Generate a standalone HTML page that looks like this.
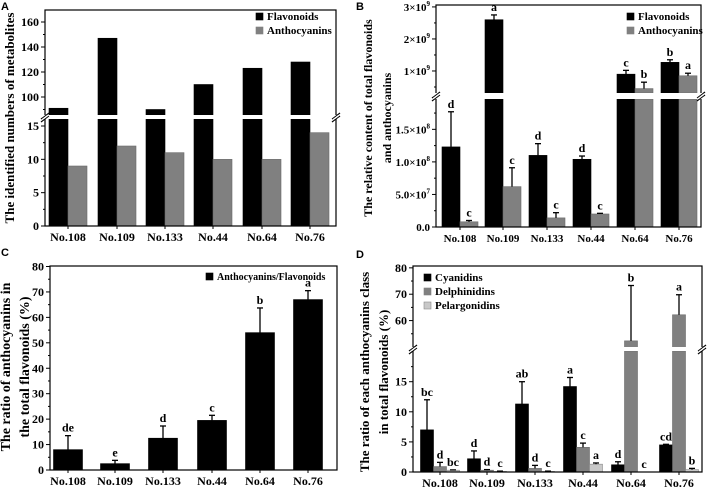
<!DOCTYPE html>
<html><head><meta charset="utf-8"><style>
html,body{margin:0;padding:0;background:#fff}
svg{display:block}
text{font-family:"Liberation Serif",serif;font-weight:bold;fill:#000}
.pl{font-family:"Liberation Sans",sans-serif;font-size:11px}
</style></head><body>
<svg id="fig" width="708" height="488" viewBox="0 0 708 488" xmlns="http://www.w3.org/2000/svg"></svg>
<script>
// ---------- data ----------
const categories = ["No.108","No.109","No.133","No.44","No.64","No.76"];
// Panel A
const aFlavonoids = [91,147,90,110,123,128];
const aAnthocyanins = [9,12,11,10,10,14];
// Panel B
const bFlavonoids = [1.23e8,2.6e9,1.1e8,1.04e8,0.9e9,1.27e9];
const bFlavErr = [1.77e8,2.75e9,1.28e8,1.09e8,1.02e9,1.35e9];
const bFlavLetters = ["d","a","d","d","c","b"];
const bAnthocyanins = [8e6,6.2e7,1.4e7,2.0e7,0.45e9,0.85e9];
const bAnthErr = [1.0e7,9.1e7,2.2e7,2.1e7,0.65e9,0.93e9];
const bAnthLetters = ["c","c","c","c","b","a"];
// Panel C
const cRatio = [8,2.5,12.5,19.5,54,67];
const cErr = [13.5,3.8,17.3,21.5,63.7,70.5];
const cLetters = ["de","e","d","c","b","a"];
// Panel D
const dCyanidins = [7,2.2,11.3,14.2,1.2,4.5];
const dCyanErr = [12,3.5,15,15.7,1.7,4.6];
const dCyanLetters = ["bc","d","ab","a","d","cd"];
const dDelphinidins = [0.9,0.3,0.6,4.1,52.3,62.2];
const dDelphErr = [1.6,0.4,1.1,4.8,73.3,69.8];
const dDelphLetters = ["d","d","d","c","b","a"];
const dPelargonidins = [0.3,0.1,0.1,1.3,0,0.4];
const dPelErr = [0.35,0.15,0.15,1.5,0,0.6];
const dPelLetters = ["bc","c","c","a","c","b"];

const NS="http://www.w3.org/2000/svg";
const svg=document.getElementById('fig');
function el(tag,attrs,parent,txt){const e=document.createElementNS(NS,tag);for(const k in attrs)e.setAttribute(k,attrs[k]);if(txt!==undefined)e.textContent=txt;(parent||svg).appendChild(e);return e;}

function makeScale(segs){
  return function(v){
    for(const s of segs){ if(v<=s.max || s===segs[segs.length-1]){ const c=Math.max(s.min,Math.min(s.max,v)); return s.yb-(c-s.min)/(s.max-s.min)*(s.yb-s.yt);} }
  };
}
function drawBar(g,segs,x,w,v,fill,stroke,name){
  for(const s of segs){
    if(v>s.min){
      const top=Math.min(v,s.max);
      const y0=s.yb-(top-s.min)/(s.max-s.min)*(s.yb-s.yt);
      const r=el('rect',{x:x,y:y0,width:w,height:s.yb-y0,fill:fill,stroke:stroke,'stroke-width':0.6},g);
      
      
    }
  }
}
function errBar(g,y,cx,v,e){
  const y1=y(v),y2=y(e);
  const l=el('line',{x1:cx,x2:cx,y1:y1,y2:y2,stroke:'#000','stroke-width':1.3},g);
  
  
  el('line',{x1:cx-3,x2:cx+3,y1:y2,y2:y2,stroke:'#000','stroke-width':1.3},g);
}
function letter(g,cx,y,t,size){
  const tx=el('text',{x:cx,y:y,'text-anchor':'middle','font-size':size||12},g,t);
  
  
}
function frame(g,L,R,T,B){
  el('rect',{x:L,y:T,width:R-L,height:B-T,fill:'none',stroke:'#000','stroke-width':1.2},g);
}
function yTicks(g,L,y,vals,labels,minors,fs){
  vals.forEach((v,i)=>{
    const yy=y(v);
    el('line',{x1:L-4,x2:L,y1:yy,y2:yy,stroke:'#000','stroke-width':1},g);
    const t=el('text',{x:L-6,y:yy+4,'text-anchor':'end','font-size':fs||12},g);
    
    
    const lb=labels[i];
    if(Array.isArray(lb)){el('tspan',{},t,lb[0]);el('tspan',{dy:-5,'font-size':7},t,lb[1]);}
    else t.textContent=lb;
  });
  minors.forEach(v=>{const yy=y(v);el('line',{x1:L-2,x2:L,y1:yy,y2:yy,stroke:'#000','stroke-width':1},g);});
}
function xLabels(g,centers,B,fs){
  categories.forEach((c,i)=>{
    el('line',{x1:centers[i],x2:centers[i],y1:B,y2:B+3,stroke:'#000','stroke-width':1},g);
    const t=el('text',{x:centers[i],y:B+15,'text-anchor':'middle','font-size':fs||12},g,c);
    
    
  });
}
function breakMark(g,L,R,y1,y2){
  el('rect',{x:L-3,y:y1,width:R-L+6,height:y2-y1,fill:'#fff'},g);
  const m=(y1+y2)/2;
  [L,R].forEach(x=>{
    el('line',{x1:x-4,y1:m-1+3,x2:x+4,y2:m-1-3,stroke:'#000','stroke-width':1},g);
    el('line',{x1:x-4,y1:m+2+3,x2:x+4,y2:m+2-3,stroke:'#000','stroke-width':1},g);
  });
}
function yTitle(g,x,y,lines,fs){
  const t=el('text',{transform:`translate(${x},${y}) rotate(-90)`,'text-anchor':'middle','font-size':fs||13},g);
  
  
  lines.forEach((ln,i)=>el('tspan',{x:0,dy:i?19:0},t,ln));
}
function legendEntry(g,x,y,color,label,stroke,fs){
  el('rect',{x:x,y:y-4,width:7,height:7,fill:color,stroke:stroke||color,'stroke-width':0.6},g);
  const t=el('text',{x:x+11,y:y+3,'font-size':fs||11},g,label);
  
  
}
function panelLabel(x,y,t){const e=el('text',{x:x,y:y,class:'pl'},svg,t);}

// ---------- Panel A ----------
(function(){
  const g=el('g',{});
  
  
  const L=45,R=336,T=10,B=226;
  const segs=[{min:0,max:16.35,yb:226,yt:117},{min:85.6,max:169.6,yb:115,yt:10}];
  const y=makeScale(segs);
  const centers=[68,117,165,213,262,310], w=19;
  categories.forEach((c,i)=>{
    drawBar(g,segs,centers[i]-w,w,aFlavonoids[i],'#000','#000','bar-flavonoids');
    drawBar(g,segs,centers[i],w,aAnthocyanins[i],'#808080','#6a6a6a','bar-anthocyanins');
  });
  breakMark(g,L,R,115,119);
  frame(g,L,R,T,B);
  breakMark(g,L,R,115,119);
  yTicks(g,L,y,[0,5,10,15,100,120,140,160],['0','5','10','15','100','120','140','160'],[2.5,7.5,12.5,90,110,130,150]);
  xLabels(g,centers,B);
  yTitle(g,14,118,['The identified numbers of metabolites']);
  legendEntry(g,256,17,'#000','Flavonoids');
  legendEntry(g,256,31,'#808080','Anthocyanins');
  panelLabel(1,10,'A');
})();

// ---------- Panel B ----------
(function(){
  const g=el('g',{});
  
  
  const L=436,R=701,T=5,B=227;
  const segs=[{min:0,max:1.966e8,yb:227,yt:99},{min:0.3125e9,max:3.06e9,yb:93,yt:5}];
  const y=makeScale(segs);
  const centers=[460,503,547,591,635,679], w=18;
  categories.forEach((c,i)=>{
    drawBar(g,segs,centers[i]-w,w,bFlavonoids[i],'#000','#000','bar-flavonoids');
    drawBar(g,segs,centers[i],w,bAnthocyanins[i],'#808080','#6a6a6a','bar-anthocyanins');
  });
  breakMark(g,L,R,93,99);
  frame(g,L,R,T,B);
  breakMark(g,L,R,93,99);
  categories.forEach((c,i)=>{
    errBar(g,y,centers[i]-w/2,bFlavonoids[i],bFlavErr[i]);
    errBar(g,y,centers[i]+w/2,bAnthocyanins[i],bAnthErr[i]);
    letter(g,centers[i]-w/2,y(bFlavErr[i])-4,bFlavLetters[i]);
    letter(g,centers[i]+w/2,y(bAnthErr[i])-4,bAnthLetters[i]);
  });
  yTicks(g,L,y,[0,5e7,1e8,1.5e8,1e9,2e9,3e9],['0.0',['5.0×10','7'],['1.0×10','8'],['1.5×10','8'],['1×10','9'],['2×10','9'],['3×10','9']],[2.5e7,7.5e7,1.25e8,1.75e8,0.5e9,1.5e9,2.5e9],11);
  xLabels(g,centers,B,11);
  yTitle(g,372,118,['The relative content of total flavonoids','and anthocyanins'],12);
  legendEntry(g,627,17,'#000','Flavonoids');
  legendEntry(g,627,31,'#808080','Anthocyanins');
  panelLabel(356,10,'B');
})();

// ---------- Panel C ----------
(function(){
  const g=el('g',{});
  
  
  const L=50,R=337,T=266,B=470;
  const segs=[{min:0,max:80,yb:470,yt:266.5}];
  const y=makeScale(segs);
  const centers=[68,115,163,212,260,308], w=29;
  categories.forEach((c,i)=>{
    drawBar(g,segs,centers[i]-w/2,w,cRatio[i],'#000','#000','bar-ratio');
    errBar(g,y,centers[i],cRatio[i],cErr[i]);
    letter(g,centers[i],y(cErr[i])-4,cLetters[i]);
  });
  frame(g,L,R,T,B);
  yTicks(g,L,y,[0,10,20,30,40,50,60,70,80],['0','10','20','30','40','50','60','70','80'],[5,15,25,35,45,55,65,75]);
  xLabels(g,centers,B);
  yTitle(g,10,367,['The ratio of anthocyanins in','the total flavonoids (%)'],14);
  legendEntry(g,206,277,'#000','Anthocyanins/Flavonoids',null,10);
  panelLabel(1,256,'C');
})();

// ---------- Panel D ----------
(function(){
  const g=el('g',{});
  
  
  const L=413,R=702,T=266,B=472;
  const segs=[{min:0,max:20.1,yb:472,yt:351},{min:49.6,max:80.7,yb:348,yt:266}];
  const y=makeScale(segs);
  const centers=[440,487,535,583,631,679], w=13;
  categories.forEach((c,i)=>{
    drawBar(g,segs,centers[i]-1.5*w,w,dCyanidins[i],'#000','#000','bar-cyanidins');
    drawBar(g,segs,centers[i]-0.5*w,w,dDelphinidins[i],'#808080','#6a6a6a','bar-delphinidins');
    drawBar(g,segs,centers[i]+0.5*w,w,dPelargonidins[i],'#c8c8c8','#8a8a8a','bar-pelargonidins');
  });
  breakMark(g,L,R,347,351);
  frame(g,L,R,T,B);
  breakMark(g,L,R,347,351);
  categories.forEach((c,i)=>{
    errBar(g,y,centers[i]-w,dCyanidins[i],dCyanErr[i]);
    errBar(g,y,centers[i],dDelphinidins[i],dDelphErr[i]);
    if(dPelErr[i]>0) errBar(g,y,centers[i]+w,dPelargonidins[i],dPelErr[i]);
    letter(g,centers[i]-w,y(dCyanErr[i])-4,dCyanLetters[i]);
    letter(g,centers[i],y(dDelphErr[i])-4,dDelphLetters[i]);
    letter(g,centers[i]+w,y(dPelErr[i])-4,dPelLetters[i]);
  });
  yTicks(g,L,y,[0,5,10,15,60,70,80],['0','5','10','15','60','70','80'],[2.5,7.5,12.5,17.5,55,65,75]);
  xLabels(g,centers,B);
  yTitle(g,369,372,['The ratio of each anthocyanins class','in total flavonoids (%)'],13);
  legendEntry(g,424,278,'#000','Cyanidins');
  legendEntry(g,424,292,'#808080','Delphinidins');
  legendEntry(g,424,306,'#c8c8c8','Pelargonidins','#8a8a8a');
  panelLabel(356,258,'D');
})();
</script>
</body></html>
